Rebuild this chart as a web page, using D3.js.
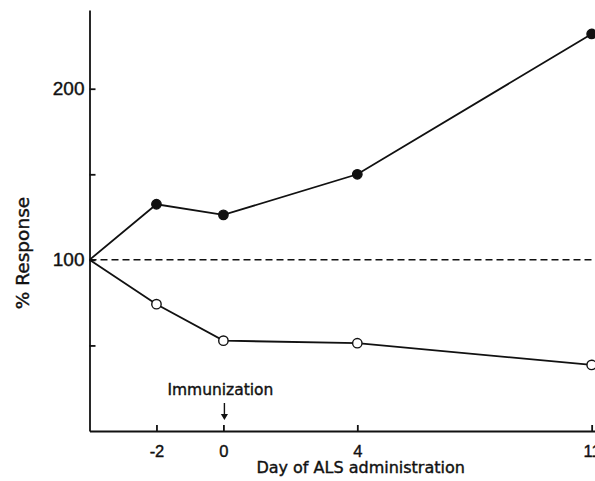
<!DOCTYPE html>
<html>
<head>
<meta charset="utf-8">
<script src="https://cdn.jsdelivr.net/npm/d3@7"></script>
<style>
  body { margin: 0; background: #fff; }
  svg { display: block; font-family: "DejaVu Sans", sans-serif; }
  .axis path, .axis line { stroke: #111; stroke-width: 1.8; }
  .axis text, .label { fill: #111; stroke: #111; stroke-width: 0.4; }
</style>
</head>
<body>
<svg width="595" height="481"></svg>
<script>
      // Data
      const days = [-4, -2, 0, 4, 11];
      const treated = [100, 132.5, 126.3, 150, 232];   // filled circles
      const control = [100, 74.1, 52.8, 51.3, 38.6];   // open circles
      const xTicks = [-2, 0, 4, 11];
      const xTickLabels = ["-2", "0", "4", "11"];
      const yTicks = [50, 100, 150, 200];
      const yTickLabels = ["", "100", "", "200"];
      const baseline = 100;

      var svg = d3.select('svg');
      var width = +svg.attr('width');
      var height = +svg.attr('height');
      var margin = { top: 10, bottom: 50, left: 89.5, right: 0 };

      var xScale = d3.scaleLinear()
        .domain([-4, 11.1])
        .range([margin.left, width]);
      var yScale = d3.scaleLinear()
        .domain([0, 246])
        .range([height - margin.bottom, margin.top]);

      var xAxis = d3.axisBottom(xScale)
        .tickValues(xTicks)
        .tickFormat((d, i) => xTickLabels[i])
        .tickSizeInner(-6)
        .tickSizeOuter(0)
        .tickPadding(14);
      var yAxis = d3.axisLeft(yScale)
        .tickValues(yTicks)
        .tickFormat((d, i) => yTickLabels[i])
        .tickSizeInner(-6)
        .tickSizeOuter(0)
        .tickPadding(5);

      svg.append('g')
          .attr('class', 'axis')
          .attr('transform', `translate(0,${yScale(0)})`)
          .call(xAxis)
          .selectAll('text')
            .style('font-size', '16.5px');
      svg.append('g')
          .attr('class', 'axis')
          .attr('transform', `translate(${margin.left},0)`)
          .call(yAxis)
          .selectAll('text')
            .style('font-size', '19px');

      // dashed reference line at 100 %
      svg.append('line')
          .attr('x1', xScale(days[0]))
          .attr('x2', xScale(11.1))
          .attr('y1', yScale(baseline))
          .attr('y2', yScale(baseline))
          .attr('stroke', '#111')
          .attr('stroke-width', 1.5)
          .attr('stroke-dasharray', '7,4');

      var line = d3.line()
        .x(d => xScale(d[0]))
        .y(d => yScale(d[1]));

      const series = [
        { values: d3.zip(days, treated), fill: '#111' },
        { values: d3.zip(days, control), fill: '#fff' }
      ];

      series.forEach(s => {
        svg.append('path')
            .attr('d', line(s.values))
            .attr('fill', 'none')
            .attr('stroke', '#111')
            .attr('stroke-width', 1.8);
        svg.selectAll(null)
          .data(s.values.slice(1))
          .enter().append('circle')
            .attr('cx', d => xScale(d[0]))
            .attr('cy', d => yScale(d[1]))
            .attr('r', 4.7)
            .attr('fill', s.fill)
            .attr('stroke', '#111')
            .attr('stroke-width', 1.4);
      });

      // axis titles
      svg.append('text')
          .attr('class', 'label')
          .attr('x', xScale(4.1))
          .attr('y', 473)
          .attr('text-anchor', 'middle')
          .style('font-size', '16px')
          .text('Day of ALS administration');
      svg.append('text')
          .attr('class', 'label')
          .attr('transform', `translate(29,253) rotate(-90)`)
          .attr('text-anchor', 'middle')
          .style('font-size', '18.5px')
          .text('% Response');

      // immunization marker
      svg.append('text')
          .attr('class', 'label')
          .attr('x', xScale(0) - 3)
          .attr('y', 395)
          .attr('text-anchor', 'middle')
          .style('font-size', '15.5px')
          .text('Immunization');
      svg.append('line')
          .attr('x1', xScale(0) + 1)
          .attr('x2', xScale(0) + 1)
          .attr('y1', 403)
          .attr('y2', 417)
          .attr('stroke', '#111')
          .attr('stroke-width', 1.4);
      svg.append('path')
          .attr('d', d3.symbol(d3.symbolTriangle, 22)())
          .attr('transform', `translate(${xScale(0) + 1},416) rotate(180)`)
          .attr('fill', '#111');
</script>
</body>
</html>
